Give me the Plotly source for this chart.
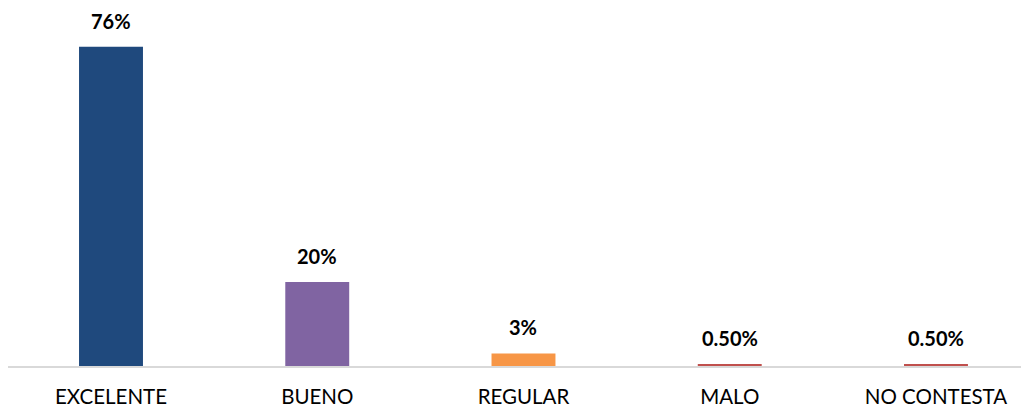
import plotly.graph_objects as go

categories = ["EXCELENTE", "BUENO", "REGULAR", "MALO", "NO CONTESTA"]
values = [0.76, 0.20, 0.03, 0.005, 0.005]
labels = ["76%", "20%", "3%", "0.50%", "0.50%"]
colors = ["#1F497D", "#8064A2", "#F79646", "#C0504D", "#C0504D"]

fig = go.Figure()
fig.add_trace(go.Bar(x=categories, y=values, marker=dict(color=colors, line=dict(width=0)),
                     width=0.31, hoverinfo="skip"))
for c, v, t in zip(categories, values, labels):
    fig.add_annotation(x=c, y=v, text=f"<b>{t}</b>", showarrow=False, yanchor="bottom",
                       yshift=12, font=dict(family="Lato, Carlito, sans-serif", size=20, color="#000000"))

fig.update_layout(
    width=1021, height=403,
    margin=dict(l=0, r=0, t=22, b=45),
    paper_bgcolor="white", plot_bgcolor="white",
    showlegend=False,
    font=dict(family="Lato, Carlito, sans-serif", size=20.5, color="#000000"),
)
fig.update_xaxes(showline=True, linecolor="#D9D9D9", linewidth=1.5, ticks="", showgrid=False,
                 range=[-0.4994, 4.451],
                 ticklabelstandoff=12, tickfont=dict(size=20.5, color="#000000"))
fig.update_yaxes(range=[0, 0.8], visible=False, showgrid=False, zeroline=False)

fig.write_html("out.html")
